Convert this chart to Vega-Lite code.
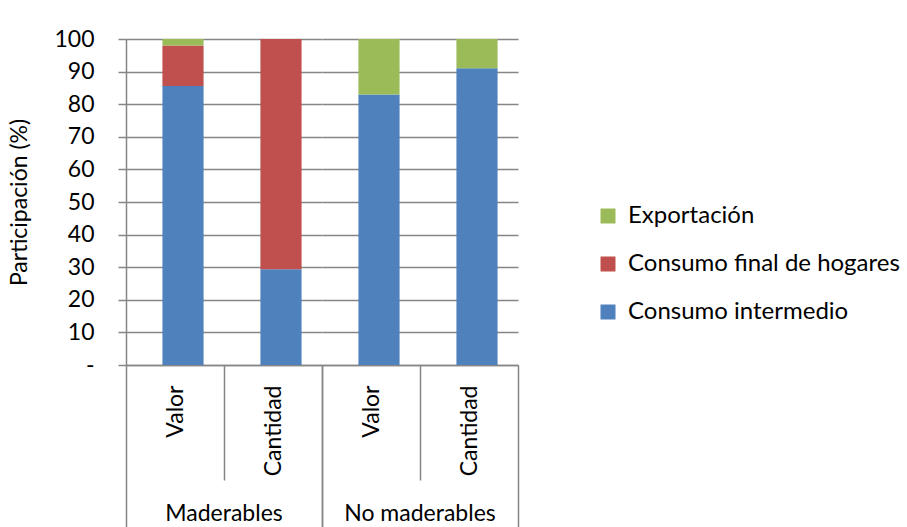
{
  "$schema": "https://vega.github.io/schema/vega-lite/v6.json",
  "padding": {"left": 8, "top": 28, "right": 0, "bottom": 0},
  "config": {
    "font": "Lato",
    "view": {"stroke": null},
    "axis": {
      "labelFont": "Lato",
      "labelFontSize": 23,
      "labelColor": "#000000",
      "labelLimit": 300,
      "titleFont": "Lato",
      "titleFontSize": 23,
      "titleFontWeight": "normal",
      "titleColor": "#000000",
      "domainColor": "#868686",
      "domainWidth": 1.5,
      "tickColor": "#868686",
      "tickWidth": 1.5,
      "gridColor": "#868686",
      "gridWidth": 1.5
    },
    "header": {"labelFont": "Lato", "labelFontSize": 23, "labelColor": "#000000"},
    "legend": {"labelFont": "Lato", "labelFontSize": 24, "labelColor": "#000000", "labelLimit": 0}
  },
  "data": {
    "values": [
      {"grupo": "Maderables", "medida": "Valor", "serie": "Consumo intermedio", "orden": 1, "valor": 85.6},
      {"grupo": "Maderables", "medida": "Valor", "serie": "Consumo final de hogares", "orden": 2, "valor": 12.4},
      {"grupo": "Maderables", "medida": "Valor", "serie": "Exportación", "orden": 3, "valor": 2.0},
      {"grupo": "Maderables", "medida": "Cantidad", "serie": "Consumo intermedio", "orden": 1, "valor": 29.4},
      {"grupo": "Maderables", "medida": "Cantidad", "serie": "Consumo final de hogares", "orden": 2, "valor": 70.6},
      {"grupo": "Maderables", "medida": "Cantidad", "serie": "Exportación", "orden": 3, "valor": 0},
      {"grupo": "No maderables", "medida": "Valor", "serie": "Consumo intermedio", "orden": 1, "valor": 83.0},
      {"grupo": "No maderables", "medida": "Valor", "serie": "Consumo final de hogares", "orden": 2, "valor": 0},
      {"grupo": "No maderables", "medida": "Valor", "serie": "Exportación", "orden": 3, "valor": 17.0},
      {"grupo": "No maderables", "medida": "Cantidad", "serie": "Consumo intermedio", "orden": 1, "valor": 91.0},
      {"grupo": "No maderables", "medida": "Cantidad", "serie": "Consumo final de hogares", "orden": 2, "valor": 0},
      {"grupo": "No maderables", "medida": "Cantidad", "serie": "Exportación", "orden": 3, "valor": 9.0}
    ]
  },
  "facet": {
    "column": {
      "field": "grupo",
      "type": "nominal",
      "sort": ["Maderables", "No maderables"],
      "title": null,
      "header": {"labelOrient": "bottom", "labelPadding": -25}
    }
  },
  "spacing": 0,
  "spec": {
    "width": 196,
    "height": 326,
    "mark": {"type": "bar", "width": {"band": 0.42}, "xOffset": 8},
    "encoding": {
      "x": {
        "field": "medida",
        "type": "nominal",
        "sort": ["Valor", "Cantidad"],
        "title": null,
        "scale": {"paddingInner": 0, "paddingOuter": 0},
        "axis": {
          "labelAngle": 270,
          "labelAlign": "right",
          "labelBaseline": "middle",
          "tickBand": "extent",
          "labelPadding": -142,
          "tickSize": 162,
          "tickDash": {"condition": {"test": "datum.value === 'Valor' && !datum.extra", "value": [115, 200]}, "value": []}
        }
      },
      "y": {
        "field": "valor",
        "type": "quantitative",
        "stack": "zero",
        "title": "Participación (%)",
        "scale": {"domain": [0, 100], "nice": false},
        "axis": {
          "values": [0, 10, 20, 30, 40, 50, 60, 70, 80, 90, 100],
          "labelExpr": "datum.value === 0 ? '-' : datum.label",
          "tickSize": 8,
          "labelPadding": 24,
          "titlePadding": 22
        }
      },
      "color": {
        "field": "serie",
        "type": "nominal",
        "title": null,
        "scale": {
          "domain": ["Exportación", "Consumo final de hogares", "Consumo intermedio"],
          "range": ["#9BBB59", "#C0504D", "#4F81BD"]
        },
        "legend": {
          "orient": "none",
          "legendX": 470,
          "legendY": 165,
          "symbolType": "square",
          "symbolSize": 225,
          "symbolStrokeWidth": 0,
          "symbolOpacity": 1,
          "rowPadding": 24,
          "labelOffset": 8
        }
      },
      "order": {"field": "orden", "type": "quantitative"}
    }
  }
}
